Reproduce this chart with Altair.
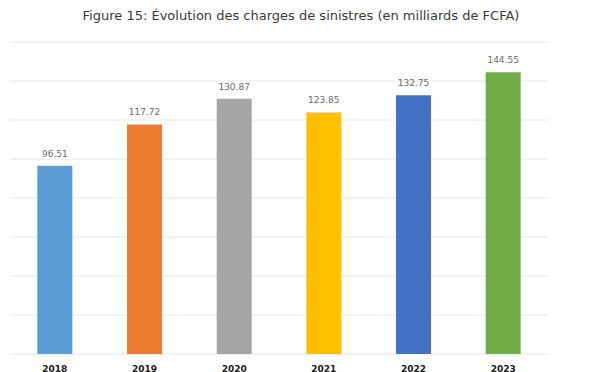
import altair as alt
import pandas as pd

years = ["2018", "2019", "2020", "2021", "2022", "2023"]
values = [96.51, 117.72, 130.87, 123.85, 132.75, 144.55]
colors = ["#5B9BD5", "#ED7D31", "#A5A5A5", "#FFC000", "#4472C4", "#70AD47"]
labels = ["96.51", "117.72", "130.87", "123.85", "132.75", "144.55"]
grid_values = [0, 20, 40, 60, 80, 100, 120, 140, 160]
title_text = "Figure 15: Évolution des charges de sinistres (en milliards de FCFA)"

df = pd.DataFrame({"year": years, "value": values, "label": labels})
gdf = pd.DataFrame({"g": grid_values})

yscale = alt.Scale(domain=[0, 160], nice=False)

grid = alt.Chart(gdf).mark_rule(color="#e6e6e6", strokeWidth=1).encode(
    y=alt.Y("g:Q", scale=yscale, axis=None)
)

x = alt.X("year:N", sort=years,
          scale=alt.Scale(paddingInner=0.6, paddingOuter=0.3),
          axis=alt.Axis(title=None, labelAngle=0, ticks=False, domain=False,
                        grid=False,
                        labelFont="DejaVu Sans", labelFontSize=9,
                        labelFontWeight="bold", labelColor="#1a1a1a",
                        labelPadding=10))
y = alt.Y("value:Q", scale=yscale, axis=None)

bars = alt.Chart(df).mark_bar(size=35).encode(
    x=x, y=y,
    color=alt.Color("year:N", scale=alt.Scale(domain=years, range=colors), legend=None),
)
text = alt.Chart(df).mark_text(
    baseline="alphabetic", dy=-9, font="DejaVu Sans", fontSize=9, color="#6b6b6b"
).encode(x=alt.X("year:N", sort=years), y="value:Q", text="label:N")

chart = (grid + bars + text).properties(
    width=538, height=312,
    title=alt.TitleParams(title_text, font="DejaVu Sans", fontSize=13,
                          fontWeight="normal", color="#3a3a3a",
                          anchor="middle", offset=19, dx=22),
    autosize=alt.AutoSizeParams(type="none"),
    padding={"left": 2, "top": 34, "right": 44, "bottom": 20},
).configure_view(stroke=None)

chart.save("out.html", embed_options={"renderer": "svg", "actions": False})
